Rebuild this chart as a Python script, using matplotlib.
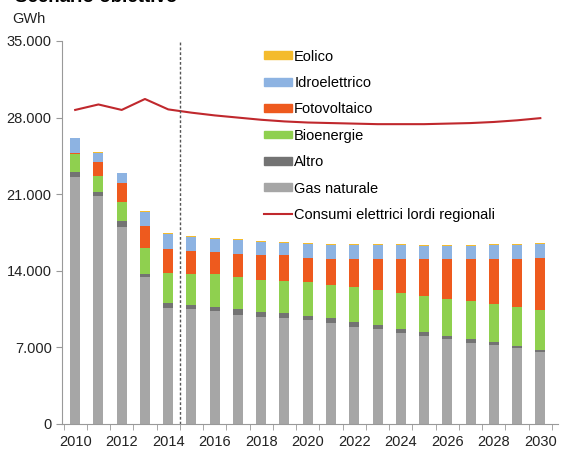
import numpy as np
import matplotlib
matplotlib.use("Agg")
import matplotlib.pyplot as plt
from matplotlib.patches import Patch
from matplotlib.lines import Line2D

plt.rcParams["font.family"] = ["Liberation Sans", "DejaVu Sans"]

years = list(range(2010, 2031))

gas = [22.6, 20.8, 18.0, 13.4, 10.6, 10.5, 10.3, 10.0, 9.8, 9.7, 9.5,
       9.2, 8.9, 8.65, 8.35, 8.05, 7.75, 7.4, 7.2, 6.9, 6.55]
altro = [0.4, 0.4, 0.55, 0.3, 0.45, 0.4, 0.4, 0.5, 0.4, 0.4, 0.4,
         0.5, 0.4, 0.4, 0.35, 0.35, 0.3, 0.35, 0.25, 0.25, 0.25]
bio = [1.7, 1.5, 1.7, 2.4, 2.75, 2.8, 3.0, 2.9, 3.0, 3.0, 3.1,
       3.0, 3.2, 3.15, 3.3, 3.3, 3.4, 3.45, 3.55, 3.5, 3.6]
foto = [0.1, 1.25, 1.8, 2.0, 2.2, 2.1, 2.0, 2.1, 2.2, 2.3, 2.2,
        2.4, 2.6, 2.9, 3.05, 3.35, 3.6, 3.85, 4.1, 4.45, 4.75]
idro = [1.3, 0.85, 0.85, 1.3, 1.35, 1.3, 1.25, 1.3, 1.25, 1.15, 1.25,
        1.25, 1.25, 1.25, 1.3, 1.2, 1.2, 1.2, 1.25, 1.25, 1.3]
eolico = [0.08] * 21

consumi = [28.7, 29.2, 28.7, 29.7, 28.75, 28.45, 28.2, 28.0, 27.8, 27.65, 27.55,
           27.5, 27.45, 27.4, 27.4, 27.4, 27.45, 27.5, 27.6, 27.75, 27.95]

series = [
    ("Gas naturale", gas, "#a6a6a6"),
    ("Altro", altro, "#737373"),
    ("Bioenergie", bio, "#8fd04f"),
    ("Fotovoltaico", foto, "#ee5a1e"),
    ("Idroelettrico", idro, "#8db3e2"),
    ("Eolico", eolico, "#f4bb2d"),
]

fig = plt.figure(figsize=(5.65, 4.49), dpi=100)
ax = fig.add_axes([0.110, 0.0557, 0.878, 0.853])

x = np.arange(len(years))
bottom = np.zeros(len(years))
for name, vals, col in series:
    v = np.array(vals) * 1000
    ax.bar(x, v, width=0.43, bottom=bottom, color=col, linewidth=0)
    bottom += v

ax.plot(x, np.array(consumi) * 1000, color="#c0282d", linewidth=1.5)
ax.axvline(4.5, color="#555555", linestyle=(0, (2, 1.5)), linewidth=1.0)

ax.set_ylim(0, 35000)
ax.set_xlim(-0.56, 20.77)
ax.set_yticks(np.arange(0, 35001, 7000))
ax.set_yticklabels(["0", "7.000", "14.000", "21.000", "28.000", "35.000"])
ax.set_xticks(x[::2])
ax.set_xticklabels([str(y) for y in years[::2]])
ax.set_xticks(np.arange(-0.5, 20.6, 1), minor=True)
ax.tick_params(axis="x", which="major", length=0, pad=8)
ax.tick_params(axis="x", which="minor", length=4, color="#999999")
ax.tick_params(axis="y", length=4, color="#999999")
ax.tick_params(labelsize=10.5, labelcolor="#222222")
for s in ["top", "right"]:
    ax.spines[s].set_visible(False)
for s in ["left", "bottom"]:
    ax.spines[s].set_color("#999999")

handles = [Patch(color=col, label=name) for name, vals, col in series[::-1]]
handles.append(Line2D([0], [0], color="#c0282d", linewidth=1.5,
                      label="Consumi elettrici lordi regionali"))
ax.legend(handles=handles, loc="upper left", bbox_to_anchor=(0.381, 1.012),
          frameon=False, fontsize=10.5, handlelength=1.9, handleheight=0.45,
          handletextpad=0.15, labelspacing=0.85)

fig.text(0.021, 0.958, "GWh", fontsize=10.5, color="#222222", va="center")
fig.text(0.026, 1.005, "Scenario obiettivo", fontsize=13.5, fontweight="bold",
         va="center")

fig.savefig("out.png", dpi=100)
